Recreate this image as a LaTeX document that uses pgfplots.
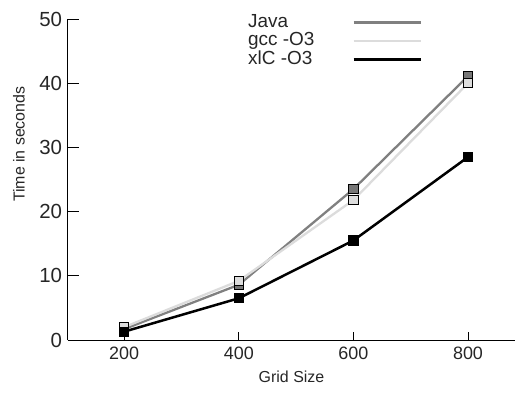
\documentclass[border=0pt]{standalone}
\usepackage{pgfplots}
\pgfplotsset{compat=1.18}
\usepackage{fontspec}
\setmainfont{Liberation Sans}
\definecolor{javaline}{HTML}{808080}
\definecolor{javafill}{HTML}{777777}
\definecolor{gccline}{HTML}{DCDCDC}
\definecolor{gccfill}{HTML}{DDDDDD}
\begin{document}
\begin{tikzpicture}
\useasboundingbox (-68bp,-65bp) rectangle (447bp,340bp);
\begin{axis}[
  at={(0,0)}, anchor=south west,
  scale only axis,
  width=447bp, height=321bp,
  xmin=102, xmax=882, ymin=0, ymax=50,
  axis x line*=bottom, axis y line*=left,
  axis line style={line width=1bp, black},
  xtick={200,400,600,800}, ytick={0,10,20,30,40,50},
  tick align=inside,
  major tick length=11bp,
  xtick style={/pgfplots/major tick length=8bp, line width=1bp, black},
  ytick style={line width=1bp, black},
  /pgf/number format/assume math mode=true,
  xticklabel style={font=\fontsize{18}{20}\selectfont, text=black!85, yshift=-3bp},
  yticklabel style={font=\fontsize{20.5}{22}\selectfont, text=black!85, xshift=-2.5bp},
  xlabel={Grid Size}, ylabel={Time in seconds},
  label style={font=\fontsize{16}{18}\selectfont, text=black!85},
  xlabel style={at={(axis description cs:0.5,-0.115)}, anchor=center},
  ylabel style={at={(axis description cs:-0.1096,0.61)}, anchor=center, rotate=0},
  legend plot pos=right,
  legend cell align=left,
  legend image code/.code={\draw[#1, mark=none] (0bp,0bp) -- (67bp,0bp);},
  legend style={draw=none, fill=none, at={(axis description cs:0.4027,1.019)}, anchor=north west,
    font=\fontsize{19}{20}\selectfont, text=black!85, inner sep=0pt, row sep=0pt, column sep=38bp,
    nodes={inner sep=0pt, text height=14bp, text depth=4.5bp}},
]
\addplot[javaline, line width=2.3bp, mark=square*, mark size=4.6bp, mark options={draw=black, fill=javafill, line width=0.8bp}]
  coordinates {(200,1.7) (400,8.6) (600,23.5) (800,41.1)};
\addlegendentry{Java}
\addplot[gccline, line width=2.3bp, mark=square*, mark size=4.6bp, mark options={draw=black, fill=gccfill, line width=0.8bp}]
  coordinates {(200,2.0) (400,9.2) (600,21.8) (800,40.0)};
\addlegendentry{gcc -O3}
\addplot[black, line width=2.5bp, mark=square*, mark size=4.6bp, mark options={draw=black, fill=black, line width=0.8bp}]
  coordinates {(200,1.3) (400,6.5) (600,15.5) (800,28.5)};
\addlegendentry{xlC -O3}
\end{axis}
\end{tikzpicture}
\end{document}
